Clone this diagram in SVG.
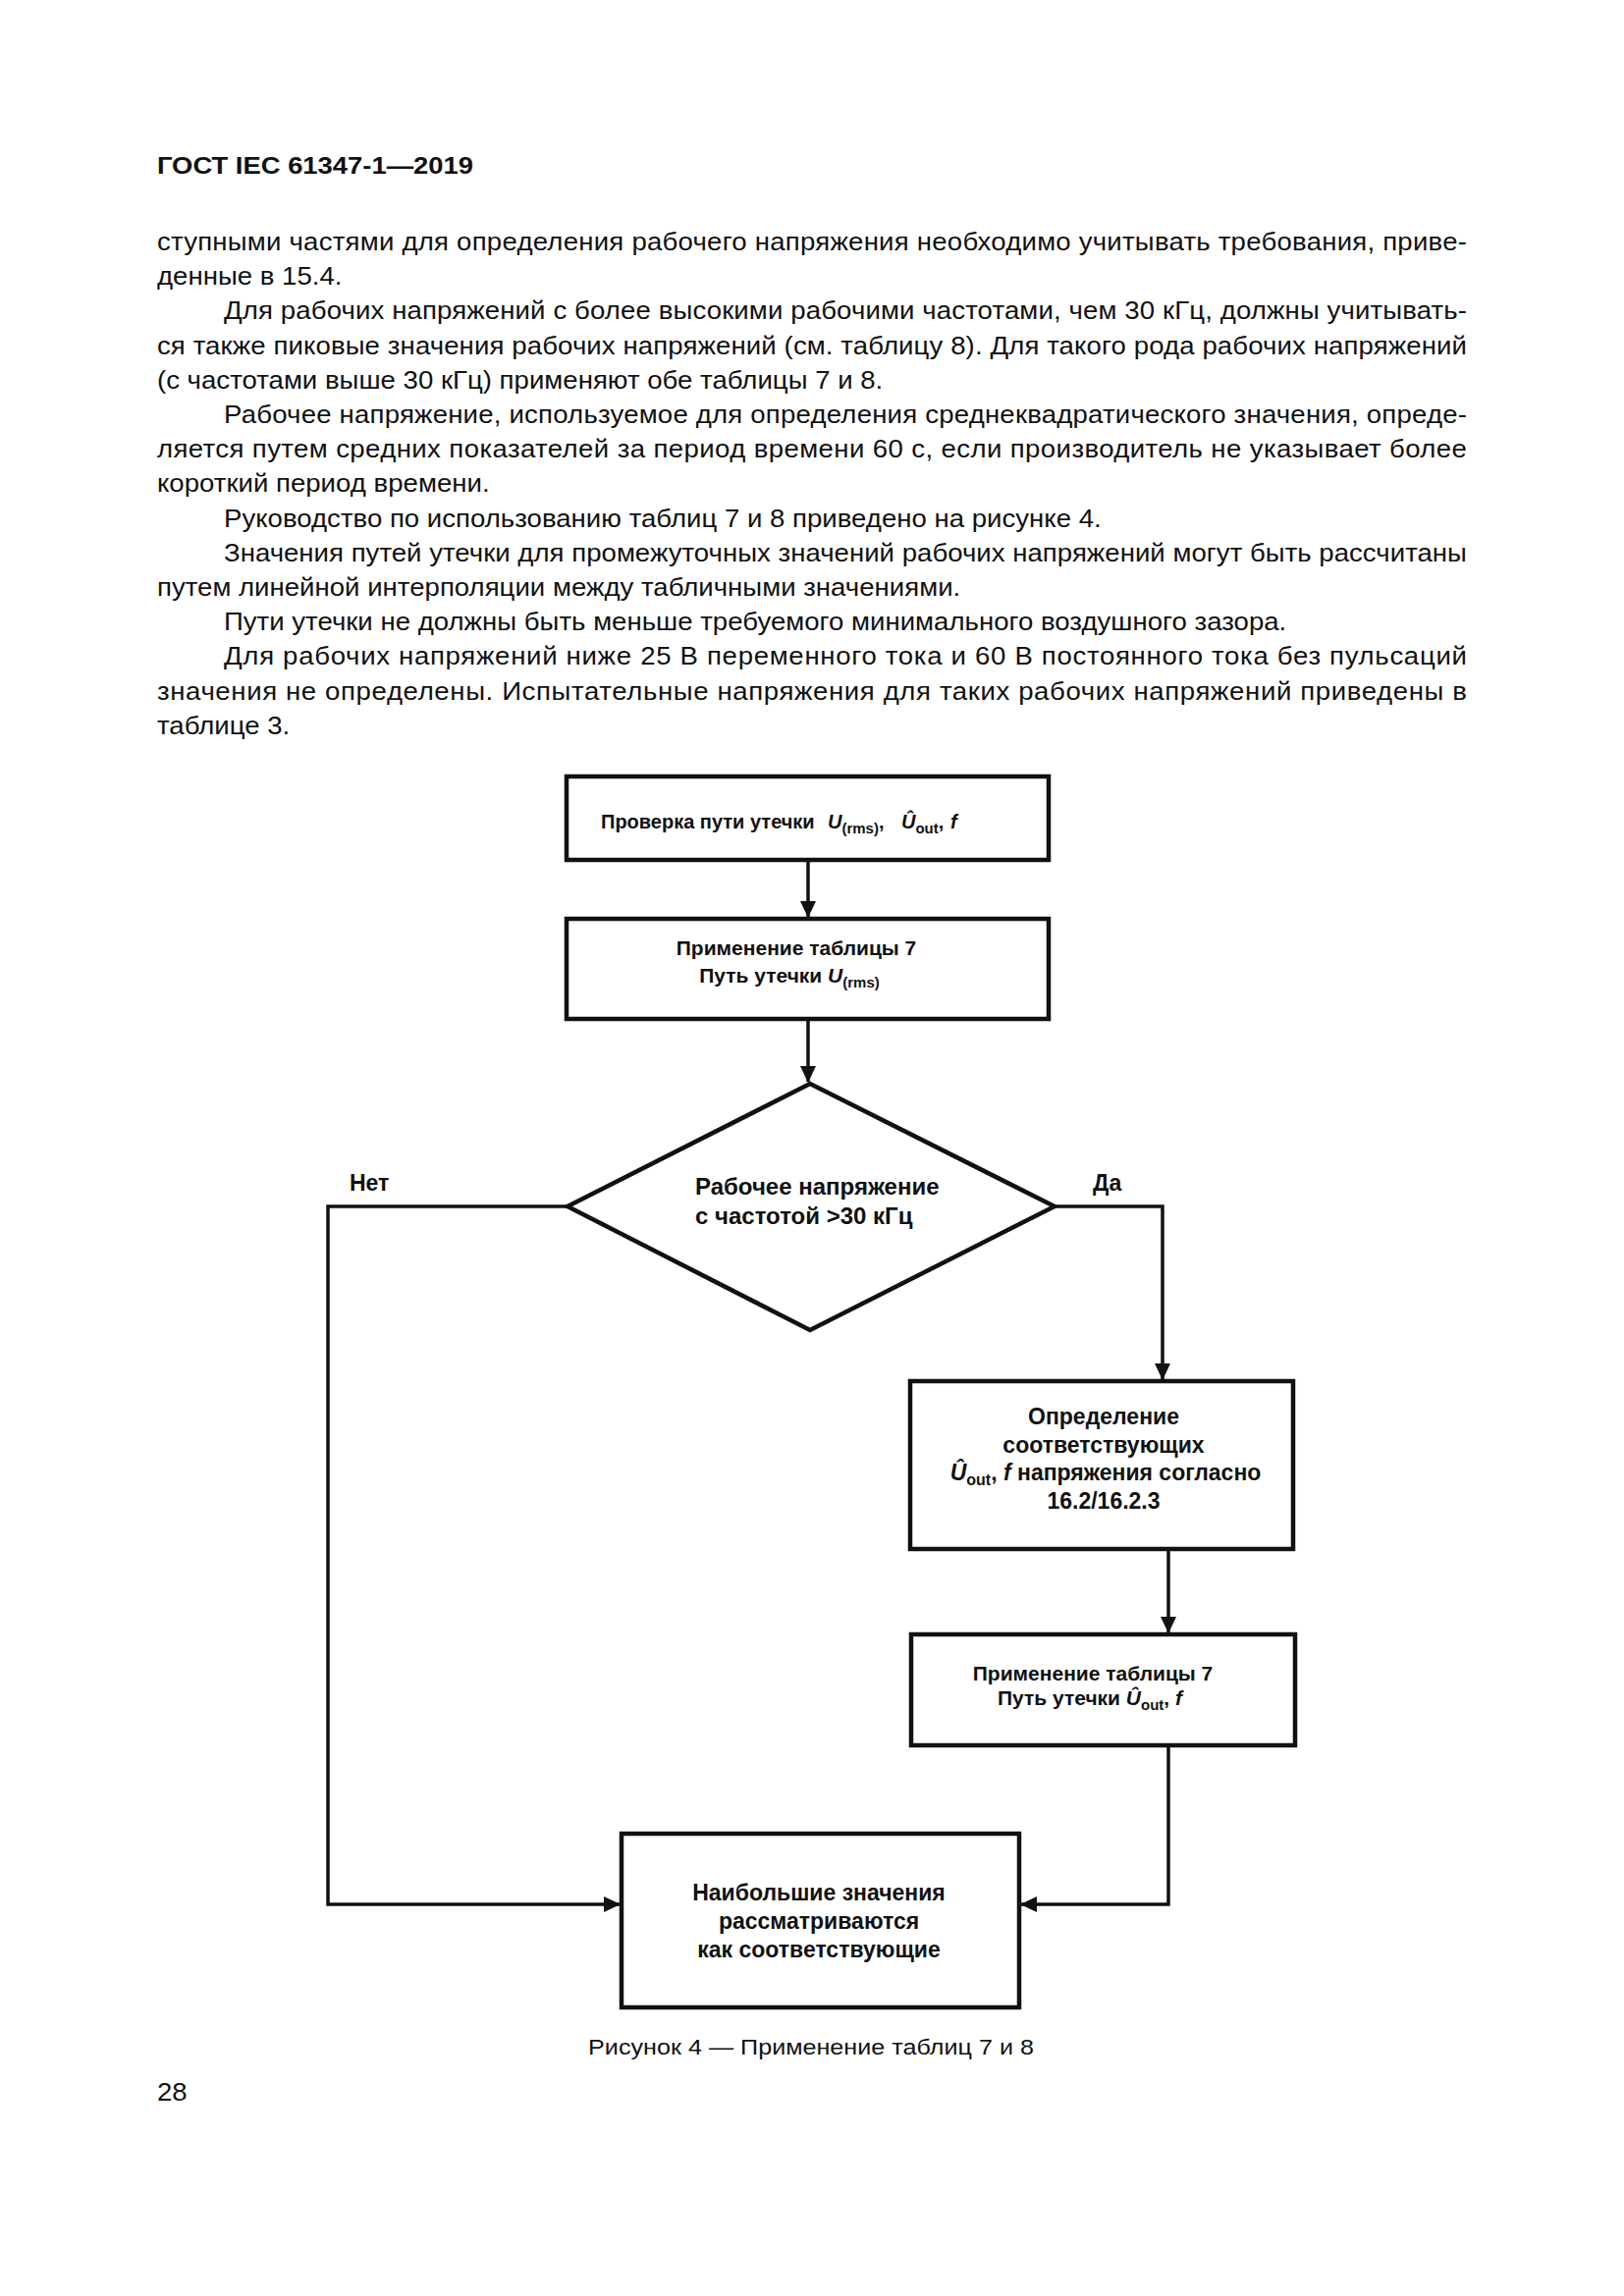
<svg xmlns="http://www.w3.org/2000/svg" width="1654" height="2339" viewBox="0 0 1654 2339">
<style>
.body{font-family:"Liberation Sans",Arial,sans-serif;font-size:25px;fill:#111}
.hdr{font-family:"Liberation Sans",Arial,sans-serif;font-size:24px;font-weight:bold;fill:#111}
.fb{font-family:"Liberation Sans",Arial,sans-serif;font-weight:bold;fill:#111}
.f20{font-size:20px}
.f21{font-size:21px}
.f23{font-size:23px}
.f24{font-size:24px}
.box{fill:none;stroke:#111;stroke-width:4.5}
.con{fill:none;stroke:#111;stroke-width:3.5}
.it{font-style:italic}
</style>
<defs>
<marker id="ah" markerUnits="userSpaceOnUse" markerWidth="18" markerHeight="18" viewBox="0 0 18 18" refX="16" refY="9" orient="auto">
<path d="M0,1 L17,9 L0,17 Z" fill="#111"/>
</marker>
</defs>
<rect x="0" y="0" width="1654" height="2339" fill="#fff"/>
<g id="page-text" transform="scale(1.104,1)">
<text class="hdr" x="144.9" y="177" textLength="291.7" lengthAdjust="spacingAndGlyphs">ГОСТ IEC 61347-1—2019</text>
<text class="body" x="144.9" y="255" textLength="1208.3" lengthAdjust="spacing">ступными частями для определения рабочего напряжения необходимо учитывать требования, приве-</text>
<text class="body" x="144.9" y="290.2">денные в 15.4.</text>
<text class="body" x="206.5" y="325.4" textLength="1146.7" lengthAdjust="spacing">Для рабочих напряжений с более высокими рабочими частотами, чем 30 кГц, должны учитывать-</text>
<text class="body" x="144.9" y="360.6" textLength="1208.3" lengthAdjust="spacing">ся также пиковые значения рабочих напряжений (см. таблицу 8). Для такого рода рабочих напряжений</text>
<text class="body" x="144.9" y="395.8">(с частотами выше 30 кГц) применяют обе таблицы 7 и 8.</text>
<text class="body" x="206.5" y="431" textLength="1146.7" lengthAdjust="spacing">Рабочее напряжение, используемое для определения среднеквадратического значения, опреде-</text>
<text class="body" x="144.9" y="466.2" textLength="1208.3" lengthAdjust="spacing">ляется путем средних показателей за период времени 60 с, если производитель не указывает более</text>
<text class="body" x="144.9" y="501.4">короткий период времени.</text>
<text class="body" x="206.5" y="536.6">Руководство по использованию таблиц 7 и 8 приведено на рисунке 4.</text>
<text class="body" x="206.5" y="571.8" textLength="1146.7" lengthAdjust="spacing">Значения путей утечки для промежуточных значений рабочих напряжений могут быть рассчитаны</text>
<text class="body" x="144.9" y="607">путем линейной интерполяции между табличными значениями.</text>
<text class="body" x="206.5" y="642.2">Пути утечки не должны быть меньше требуемого минимального воздушного зазора.</text>
<text class="body" x="206.5" y="677.4" textLength="1146.7" lengthAdjust="spacing">Для рабочих напряжений ниже 25 В переменного тока и 60 В постоянного тока без пульсаций</text>
<text class="body" x="144.9" y="712.6" textLength="1208.3" lengthAdjust="spacing">значения не определены. Испытательные напряжения для таких рабочих напряжений приведены в</text>
<text class="body" x="144.9" y="747.8">таблице 3.</text>
<text class="body" x="748.2" y="2093" text-anchor="middle" style="font-size:22.8px">Рисунок 4 — Применение таблиц 7 и 8</text>
<text class="body" x="144.9" y="2140">28</text>
</g>
<g id="connectors">
<line class="con" x1="823" y1="876" x2="823" y2="934" marker-end="url(#ah)"/>
<line class="con" x1="823" y1="1038" x2="823" y2="1102" marker-end="url(#ah)"/>
<polyline class="con" points="578,1229 334,1229 334,1940 631,1940" marker-end="url(#ah)"/>
<polyline class="con" points="1074,1229 1184,1229 1184,1405" marker-end="url(#ah)"/>
<line class="con" x1="1190" y1="1578" x2="1190" y2="1663" marker-end="url(#ah)"/>
<polyline class="con" points="1190,1778 1190,1940 1040,1940" marker-end="url(#ah)"/>
<text class="fb f23" x="356" y="1213">Нет</text>
<text class="fb f23" x="1113" y="1213">Да</text>
</g>
<g id="node-check">
<rect class="box" x="577" y="791" width="491" height="85"/>
<text class="fb f20" x="612" y="844">Проверка пути утечки</text>
<text class="fb f20" x="843" y="844"><tspan class="it">U</tspan><tspan font-size="15" dy="5">(rms)</tspan><tspan dy="-5">,</tspan></text>
<text class="fb f20" x="918" y="844"><tspan class="it">Û</tspan><tspan font-size="15" dy="5">out</tspan><tspan dy="-5">,</tspan></text>
<text class="fb f20 it" x="968" y="844">f</text>
</g>
<g id="node-table7-rms">
<rect class="box" x="577" y="936" width="491" height="102"/>
<text class="fb f21" x="811" y="973" text-anchor="middle">Применение таблицы 7</text>
<text class="fb f21" x="804" y="1001" text-anchor="middle">Путь утечки <tspan class="it">U</tspan><tspan font-size="15" dy="5">(rms)</tspan></text>
</g>
<g id="node-decision">
<polygon class="box" points="825,1104 1074,1229 825,1355 578,1229"/>
<text class="fb f24" x="708" y="1217">Рабочее напряжение</text>
<text class="fb f24" x="708" y="1247">с частотой &gt;30 кГц</text>
</g>
<g id="node-determine">
<rect class="box" x="927" y="1407" width="390" height="171"/>
<text class="fb f23" x="1124" y="1451" text-anchor="middle">Определение</text>
<text class="fb f23" x="1124" y="1480" text-anchor="middle">соответствующих</text>
<text class="fb f23" x="1126" y="1508" text-anchor="middle"><tspan class="it">Û</tspan><tspan font-size="16" dy="5">out</tspan><tspan dy="-5">, </tspan><tspan class="it">f</tspan> напряжения согласно</text>
<text class="fb f23" x="1124" y="1537" text-anchor="middle">16.2/16.2.3</text>
</g>
<g id="node-table7-peak">
<rect class="box" x="928" y="1665" width="391" height="113"/>
<text class="fb f21" x="1113" y="1712" text-anchor="middle">Применение таблицы 7</text>
<text class="fb f21" x="1110" y="1737" text-anchor="middle">Путь утечки <tspan class="it">Û</tspan><tspan font-size="15" dy="5">out</tspan><tspan dy="-5">, </tspan><tspan class="it">f</tspan></text>
</g>
<g id="node-result">
<rect class="box" x="633" y="1868" width="405" height="177"/>
<text class="fb f23" x="834" y="1936" text-anchor="middle">Наибольшие значения</text>
<text class="fb f23" x="834" y="1965" text-anchor="middle">рассматриваются</text>
<text class="fb f23" x="834" y="1994" text-anchor="middle">как соответствующие</text>
</g>
</svg>
